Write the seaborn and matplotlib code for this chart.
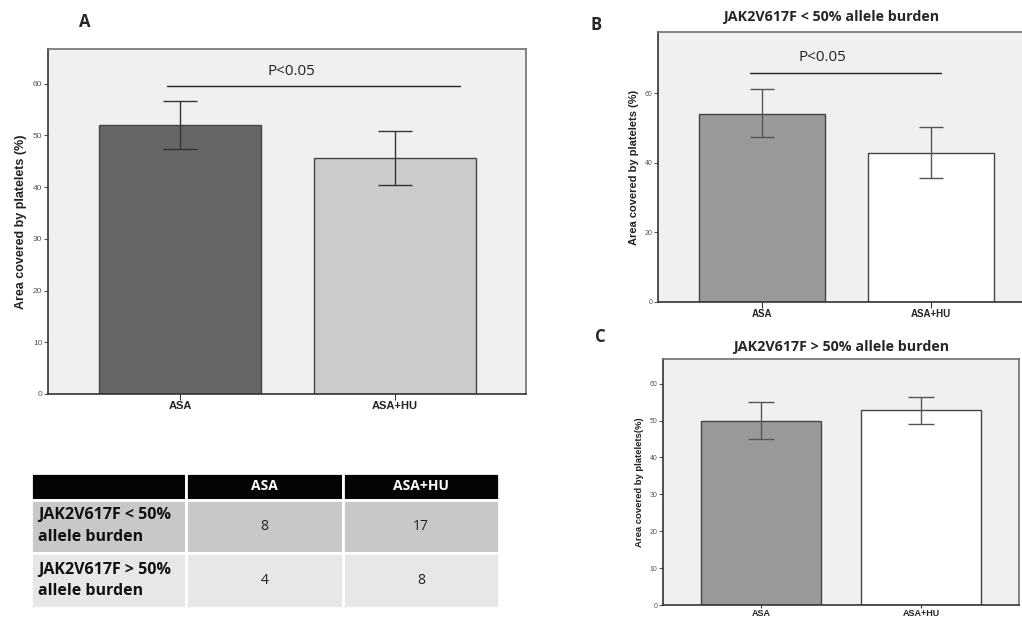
import matplotlib
matplotlib.use("Agg")
import matplotlib.pyplot as plt
import seaborn as sns

# ---------------- data ----------------
categories = ["ASA", "ASA+HU"]

a_mean = [52.0, 45.6]
a_low = [47.3, 40.4]
a_high = [56.7, 50.8]

b_mean = [54.1, 42.9]
b_low = [47.3, 35.5]
b_high = [61.1, 50.2]

c_mean = [49.9, 52.8]
c_low = [44.9, 49.1]
c_high = [55.0, 56.3]

a_yticks = [0, 10, 20, 30, 40, 50, 60]
b_yticks = [0, 20, 40, 60]
c_yticks = [0, 10, 20, 30, 40, 50, 60]

title_b = "JAK2V617F < 50% allele burden"
title_c = "JAK2V617F > 50% allele burden"
p_text = "P<0.05"

table_header = ["", "ASA", "ASA+HU"]
table_rows = ["JAK2V617F < 50%\nallele burden", "JAK2V617F > 50%\nallele burden"]
table_asa = [8, 4]
table_asahu = [17, 8]

# ---------------- style ----------------
sns.set_theme(style="white")
plt.rcParams["font.family"] = ["Liberation Sans", "DejaVu Sans"]

BG = "#eff0ef"
SPINE = "#6f6f6f"

fig = plt.figure(figsize=(10.22, 6.2), dpi=100)
fig.patch.set_facecolor("white")


def panel(rect, means, lows, highs, colors, ylim, yticks, ylabel,
          ecolor, capsize, tick_fs, label_fs, xlab_fs, xlim, xtick_len=4):
    ax = fig.add_axes(rect)
    ax.set_facecolor(BG)
    sns.barplot(x=categories, y=means, hue=categories, palette=colors,
                legend=False, width=0.75, edgecolor="#444444",
                linewidth=1.0, ax=ax)
    pos = list(range(len(categories)))
    yerr = [[m - l for m, l in zip(means, lows)],
            [h - m for m, h in zip(means, highs)]]
    ax.errorbar(pos, means, yerr=yerr, fmt="none", ecolor=ecolor,
                elinewidth=1.0, capsize=capsize, capthick=1.0, zorder=5)
    ax.set_ylim(*ylim)
    ax.set_xlim(*xlim)
    ax.set_yticks(yticks)
    ax.set_yticklabels([str(t) for t in yticks], fontsize=tick_fs,
                       color="#555555")
    ax.set_xticks(pos)
    ax.set_xticklabels(categories, fontsize=xlab_fs, fontweight="bold",
                       color="#222222")
    ax.tick_params(axis="y", which="both", left=True, length=3, width=0.8,
                   color="#555555", pad=1)
    ax.tick_params(axis="x", which="both", bottom=True, length=xtick_len,
                   width=0.8, color="#333333", pad=1)
    ax.set_ylabel(ylabel, fontsize=label_fs, fontweight="bold",
                  color="#222222", labelpad=4)
    ax.set_xlabel("")
    for side, sp in ax.spines.items():
        sp.set_visible(True)
        sp.set_color(SPINE)
        sp.set_linewidth(1.2)
    ax.spines["bottom"].set_color("#333333")
    ax.spines["left"].set_color("#333333")
    return ax


# Panel A
axA = panel([48 / 1022, 1 - 394 / 620, 478 / 1022, 345 / 620],
            a_mean, a_low, a_high, ["#666666", "#cbcbcb"],
            (0, 66.7), a_yticks, "Area covered by platelets (%)",
            "#333333", 12, 6, 9, 8, (-0.614, 1.609))
axA.plot([-0.06, 1.30], [59.5, 59.5], color="#222222", lw=1.0)
axA.text(0.52, 62.3, p_text, ha="center", va="center", fontsize=11,
         family=["Open Sans", "DejaVu Sans"], color="#222222")

# Panel B
axB = panel([658 / 1022, 1 - 302 / 620, 377 / 1022, 270 / 620],
            b_mean, b_low, b_high, ["#999999", "#ffffff"],
            (0, 77.6), b_yticks, "Area covered by platelets (%)",
            "#555555", 8.6, 5, 8, 7, (-0.615, 1.615))
axB.plot([-0.07, 1.06], [65.9, 65.9], color="#222222", lw=1.0)
axB.text(0.36, 70.2, p_text, ha="center", va="center", fontsize=11,
         family=["Open Sans", "DejaVu Sans"], color="#222222")
axB.set_title(title_b, fontsize=10.3, fontweight="bold",
              family=["Open Sans", "DejaVu Sans"], pad=8, x=0.46)

# Panel C
axC = panel([663 / 1022, 1 - 605 / 620, 356 / 1022, 246 / 620],
            c_mean, c_low, c_high, ["#999999", "#ffffff"],
            (0, 66.7), c_yticks, "Area covered by platelets(%)",
            "#555555", 9.7, 5, 6.8, 6.5, (-0.6125, 1.6125), xtick_len=2)
axC.set_title(title_c, fontsize=10.3, fontweight="bold",
              family=["Open Sans", "DejaVu Sans"], pad=6, x=0.5)

# Panel letters
for lab, (x, y) in {"A": (85, 22), "B": (596, 25), "C": (600, 337)}.items():
    fig.text(x / 1022, 1 - y / 620, lab, fontsize=12, fontweight="bold",
             ha="center", va="center", family=["Open Sans", "DejaVu Sans"])

# Table
axT = fig.add_axes([31 / 1022, 1 - 608 / 620, 468 / 1022, 135 / 620])
axT.axis("off")
cell_text = [table_header] + [[r, str(a), str(b)] for r, a, b in
                              zip(table_rows, table_asa, table_asahu)]
tbl = axT.table(cellText=cell_text, cellLoc="center", bbox=[0, 0, 1, 1])
tbl.auto_set_font_size(False)
col_w = [155, 157, 156]
row_h = [26, 52, 54]
row_bg = ["#050505", "#c8c8c8", "#e6e7e6"]
for (r, c), cell in tbl.get_celld().items():
    cell.set_width(col_w[c])
    cell.set_height(row_h[r])
    cell.set_facecolor(row_bg[r])
    cell.set_edgecolor("white")
    cell.set_linewidth(2)
    txt = cell.get_text()
    txt.set_fontfamily(["Open Sans", "DejaVu Sans"])
    txt.set_fontsize(10)
    txt.set_linespacing(1.5)
    if r == 0:
        txt.set_color("white")
        txt.set_fontweight("bold")
    elif c == 0:
        txt.set_fontweight("bold")
        txt.set_fontsize(11.5)
        txt.set_linespacing(1.45)
        txt.set_color("#111111")
        txt.set_ha("left")
        cell._loc = "left"
        cell.PAD = 0.045
    else:
        txt.set_color("#222222")

fig.savefig("out.png", dpi=100, facecolor="white")
